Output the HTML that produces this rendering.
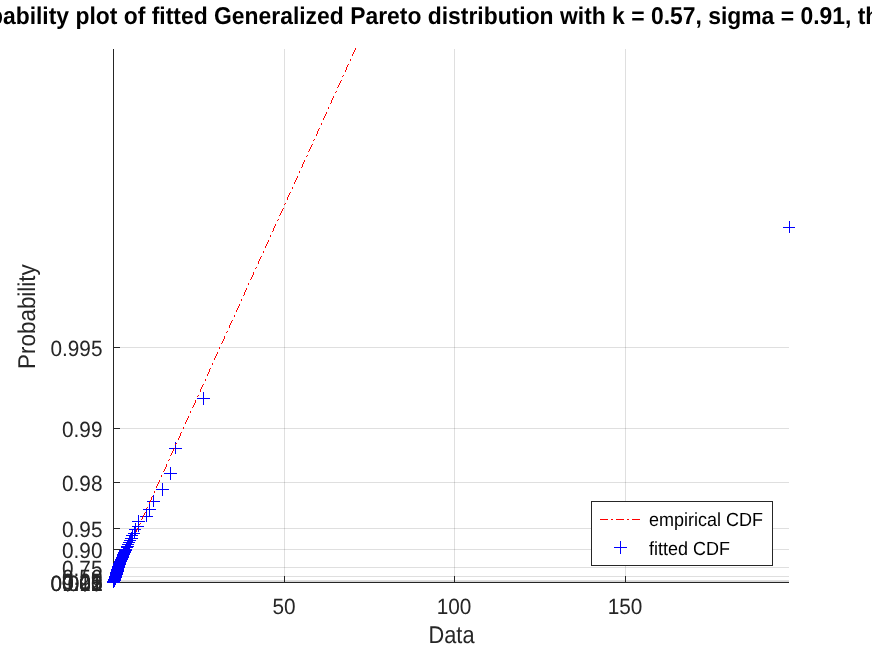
<!DOCTYPE html>
<html><head><meta charset="utf-8"><title>Probability plot</title>
<style>html,body{margin:0;padding:0;background:#fff;overflow:hidden}</style></head>
<body>
<svg width="872" height="654" viewBox="0 0 872 654" text-rendering="geometricPrecision" style="display:block;font-family:'Liberation Sans',sans-serif">
<rect width="872" height="654" fill="#fff"/>
<g fill="#262626" fill-opacity="0.15" shape-rendering="crispEdges">
<rect x="284" y="49" width="1" height="533"/>
<rect x="454" y="49" width="1" height="533"/>
<rect x="625" y="49" width="1" height="533"/>
<rect x="114" y="347" width="675" height="1"/>
<rect x="114" y="428" width="675" height="1"/>
<rect x="114" y="482" width="675" height="1"/>
<rect x="114" y="528" width="675" height="1"/>
<rect x="114" y="549" width="675" height="1"/>
<rect x="114" y="567" width="675" height="1"/>
<rect x="114" y="576" width="675" height="1"/>
<rect x="114" y="580" width="675" height="1"/>
<rect x="114" y="581" width="675" height="1" fill-opacity="0.19"/>
</g>
<g fill="#262626" shape-rendering="crispEdges">
<rect x="113" y="49" width="1" height="534"/>
<rect x="113" y="582" width="676" height="1"/>
<rect x="284" y="576" width="1" height="7"/>
<rect x="454" y="576" width="1" height="7"/>
<rect x="625" y="576" width="1" height="7"/>
<rect x="113" y="347" width="7" height="1"/>
<rect x="113" y="428" width="7" height="1"/>
<rect x="113" y="482" width="7" height="1"/>
<rect x="113" y="528" width="7" height="1"/>
<rect x="113" y="549" width="7" height="1"/>
<rect x="113" y="567" width="7" height="1"/>
<rect x="113" y="576" width="7" height="1"/>
<rect x="113" y="580" width="7" height="1"/>
<rect x="113" y="581" width="7" height="1"/>
</g>
<g fill="#262626" font-size="20.8px">
<text transform="translate(284 614) scale(1 1.06)" text-anchor="middle">50</text>
<text transform="translate(454 614) scale(1 1.06)" text-anchor="middle">100</text>
<text transform="translate(625 614) scale(1 1.06)" text-anchor="middle">150</text>
<text transform="translate(102.5 590.5) scale(1 1.06)" text-anchor="end">0.001</text>
<text transform="translate(102.5 590.5) scale(1 1.06)" text-anchor="end">0.005</text>
<text transform="translate(102.5 590.5) scale(1 1.06)" text-anchor="end">0.01</text>
<text transform="translate(102.5 590.5) scale(1 1.06)" text-anchor="end">0.02</text>
<text transform="translate(102.5 590.5) scale(1 1.06)" text-anchor="end">0.05</text>
<text transform="translate(102.5 590.5) scale(1 1.06)" text-anchor="end">0.10</text>
<text transform="translate(102.5 589.0) scale(1 1.06)" text-anchor="end">0.25</text>
<text transform="translate(102.5 585.0) scale(1 1.06)" text-anchor="end">0.50</text>
<text transform="translate(102.5 576.0) scale(1 1.06)" text-anchor="end">0.75</text>
<text transform="translate(102.5 558.0) scale(1 1.06)" text-anchor="end">0.90</text>
<text transform="translate(102.5 537.0) scale(1 1.06)" text-anchor="end">0.95</text>
<text transform="translate(102.5 491.0) scale(1 1.06)" text-anchor="end">0.98</text>
<text transform="translate(102.5 437.0) scale(1 1.06)" text-anchor="end">0.99</text>
<text transform="translate(102.5 356.0) scale(1 1.06)" text-anchor="end">0.995</text>
</g>
<g fill="#262626" font-size="22.9px">
<text transform="translate(451.5 643) scale(0.95 1.06)" text-anchor="middle">Data</text>
<text transform="translate(35 316.6) rotate(-90) scale(0.979 1.06)" text-anchor="middle">Probability</text>
</g>
<text transform="translate(451 24) scale(1 1.06)" text-anchor="middle" font-size="22.9px" font-weight="bold" fill="#000">Probability plot of fitted Generalized Pareto distribution with k = 0.57, sigma = 0.91, theta = 0</text>
<g fill="#0000ff" shape-rendering="crispEdges">
<path d="M107 582h13v1h-13zM113 576h1v12h-1z"/>
<path d="M107 582h13v1h-13zM113 576h1v12h-1z"/>
<path d="M107 582h13v1h-13zM113 576h1v12h-1z"/>
<path d="M107 582h13v1h-13zM113 576h1v12h-1z"/>
<path d="M107 582h13v1h-13zM113 576h1v12h-1z"/>
<path d="M107 582h13v1h-13zM113 576h1v12h-1z"/>
<path d="M107 582h13v1h-13zM113 576h1v12h-1z"/>
<path d="M107 582h13v1h-13zM113 576h1v12h-1z"/>
<path d="M107 582h13v1h-13zM113 576h1v12h-1z"/>
<path d="M107 582h13v1h-13zM113 576h1v12h-1z"/>
<path d="M107 582h13v1h-13zM113 576h1v12h-1z"/>
<path d="M107 581h13v1h-13zM113 575h1v13h-1z"/>
<path d="M107 581h13v1h-13zM113 575h1v13h-1z"/>
<path d="M107 581h13v1h-13zM113 575h1v13h-1z"/>
<path d="M107 581h13v1h-13zM113 575h1v13h-1z"/>
<path d="M107 581h13v1h-13zM113 575h1v13h-1z"/>
<path d="M107 581h13v1h-13zM113 575h1v13h-1z"/>
<path d="M107 581h13v1h-13zM113 575h1v13h-1z"/>
<path d="M107 581h13v1h-13zM113 575h1v13h-1z"/>
<path d="M107 581h13v1h-13zM113 575h1v13h-1z"/>
<path d="M107 581h13v1h-13zM113 575h1v13h-1z"/>
<path d="M107 581h13v1h-13zM113 575h1v13h-1z"/>
<path d="M107 581h13v1h-13zM113 575h1v13h-1z"/>
<path d="M107 581h13v1h-13zM113 575h1v13h-1z"/>
<path d="M107 581h13v1h-13zM113 575h1v12h-1z"/>
<path d="M107 581h13v1h-13zM113 575h1v12h-1z"/>
<path d="M107 581h13v1h-13zM113 575h1v12h-1z"/>
<path d="M107 581h13v1h-13zM113 575h1v12h-1z"/>
<path d="M107 581h13v1h-13zM113 575h1v12h-1z"/>
<path d="M108 581h12v1h-12zM114 575h1v12h-1z"/>
<path d="M108 581h12v1h-12zM114 575h1v12h-1z"/>
<path d="M108 581h12v1h-12zM114 575h1v12h-1z"/>
<path d="M108 581h12v1h-12zM114 575h1v12h-1z"/>
<path d="M108 581h12v1h-12zM114 575h1v12h-1z"/>
<path d="M108 581h12v1h-12zM114 575h1v12h-1z"/>
<path d="M108 580h12v1h-12zM114 574h1v13h-1z"/>
<path d="M108 580h12v1h-12zM114 574h1v13h-1z"/>
<path d="M108 580h12v1h-12zM114 574h1v13h-1z"/>
<path d="M108 580h12v1h-12zM114 574h1v13h-1z"/>
<path d="M108 580h12v1h-12zM114 574h1v13h-1z"/>
<path d="M108 580h12v1h-12zM114 574h1v13h-1z"/>
<path d="M108 580h12v1h-12zM114 574h1v13h-1z"/>
<path d="M108 580h12v1h-12zM114 574h1v13h-1z"/>
<path d="M108 580h12v1h-12zM114 574h1v13h-1z"/>
<path d="M108 580h12v1h-12zM114 574h1v13h-1z"/>
<path d="M108 580h12v1h-12zM114 574h1v12h-1z"/>
<path d="M108 580h12v1h-12zM114 574h1v12h-1z"/>
<path d="M108 580h12v1h-12zM114 574h1v12h-1z"/>
<path d="M108 580h12v1h-12zM114 574h1v12h-1z"/>
<path d="M108 580h12v1h-12zM114 574h1v12h-1z"/>
<path d="M108 580h12v1h-12zM114 574h1v12h-1z"/>
<path d="M108 580h13v1h-13zM114 574h1v12h-1z"/>
<path d="M108 580h13v1h-13zM114 574h1v12h-1z"/>
<path d="M108 580h13v1h-13zM114 574h1v12h-1z"/>
<path d="M108 580h13v1h-13zM114 574h1v12h-1z"/>
<path d="M108 579h13v1h-13zM114 573h1v13h-1z"/>
<path d="M108 579h13v1h-13zM114 573h1v13h-1z"/>
<path d="M108 579h13v1h-13zM114 573h1v13h-1z"/>
<path d="M108 579h13v1h-13zM114 573h1v13h-1z"/>
<path d="M108 579h13v1h-13zM114 573h1v13h-1z"/>
<path d="M108 579h13v1h-13zM114 573h1v13h-1z"/>
<path d="M108 579h13v1h-13zM114 573h1v13h-1z"/>
<path d="M108 579h13v1h-13zM114 573h1v13h-1z"/>
<path d="M108 579h13v1h-13zM114 573h1v12h-1z"/>
<path d="M108 579h13v1h-13zM114 573h1v12h-1z"/>
<path d="M108 579h13v1h-13zM114 573h1v12h-1z"/>
<path d="M108 579h13v1h-13zM114 573h1v12h-1z"/>
<path d="M108 579h13v1h-13zM114 573h1v12h-1z"/>
<path d="M108 579h13v1h-13zM114 573h1v12h-1z"/>
<path d="M108 579h13v1h-13zM114 573h1v12h-1z"/>
<path d="M109 579h12v1h-12zM115 573h1v12h-1z"/>
<path d="M109 578h12v1h-12zM115 572h1v13h-1z"/>
<path d="M109 578h12v1h-12zM115 572h1v13h-1z"/>
<path d="M109 578h12v1h-12zM115 572h1v13h-1z"/>
<path d="M109 578h12v1h-12zM115 572h1v13h-1z"/>
<path d="M109 578h12v1h-12zM115 572h1v13h-1z"/>
<path d="M109 578h12v1h-12zM115 572h1v13h-1z"/>
<path d="M109 578h12v1h-12zM115 572h1v13h-1z"/>
<path d="M109 578h12v1h-12zM115 572h1v12h-1z"/>
<path d="M109 578h12v1h-12zM115 572h1v12h-1z"/>
<path d="M109 578h12v1h-12zM115 572h1v12h-1z"/>
<path d="M109 578h12v1h-12zM115 572h1v12h-1z"/>
<path d="M109 578h12v1h-12zM115 572h1v12h-1z"/>
<path d="M109 578h12v1h-12zM115 572h1v12h-1z"/>
<path d="M109 577h12v1h-12zM115 571h1v13h-1z"/>
<path d="M109 577h13v1h-13zM115 571h1v13h-1z"/>
<path d="M109 577h13v1h-13zM115 571h1v13h-1z"/>
<path d="M109 577h13v1h-13zM115 571h1v13h-1z"/>
<path d="M109 577h13v1h-13zM115 571h1v13h-1z"/>
<path d="M109 577h13v1h-13zM115 571h1v13h-1z"/>
<path d="M109 577h13v1h-13zM115 571h1v12h-1z"/>
<path d="M109 577h13v1h-13zM115 571h1v12h-1z"/>
<path d="M109 577h13v1h-13zM115 571h1v12h-1z"/>
<path d="M109 577h13v1h-13zM115 571h1v12h-1z"/>
<path d="M109 577h13v1h-13zM115 571h1v12h-1z"/>
<path d="M109 577h13v1h-13zM115 571h1v12h-1z"/>
<path d="M109 576h13v1h-13zM115 570h1v13h-1z"/>
<path d="M109 576h13v1h-13zM115 570h1v13h-1z"/>
<path d="M109 576h13v1h-13zM115 570h1v13h-1z"/>
<path d="M109 576h13v1h-13zM115 570h1v13h-1z"/>
<path d="M109 576h13v1h-13zM115 570h1v13h-1z"/>
<path d="M109 576h13v1h-13zM115 570h1v12h-1z"/>
<path d="M109 576h13v1h-13zM115 570h1v12h-1z"/>
<path d="M110 576h12v1h-12zM116 570h1v12h-1z"/>
<path d="M110 576h12v1h-12zM116 570h1v12h-1z"/>
<path d="M110 575h12v1h-12zM116 569h1v13h-1z"/>
<path d="M110 575h12v1h-12zM116 569h1v13h-1z"/>
<path d="M110 575h12v1h-12zM116 569h1v13h-1z"/>
<path d="M110 575h12v1h-12zM116 569h1v13h-1z"/>
<path d="M110 575h12v1h-12zM116 569h1v13h-1z"/>
<path d="M110 575h12v1h-12zM116 569h1v12h-1z"/>
<path d="M110 575h12v1h-12zM116 569h1v12h-1z"/>
<path d="M110 575h12v1h-12zM116 569h1v12h-1z"/>
<path d="M110 575h12v1h-12zM116 569h1v12h-1z"/>
<path d="M110 574h12v1h-12zM116 568h1v13h-1z"/>
<path d="M110 574h12v1h-12zM116 568h1v13h-1z"/>
<path d="M110 574h12v1h-12zM116 568h1v13h-1z"/>
<path d="M110 574h13v1h-13zM116 568h1v12h-1z"/>
<path d="M110 574h13v1h-13zM116 568h1v12h-1z"/>
<path d="M110 574h13v1h-13zM116 568h1v12h-1z"/>
<path d="M110 574h13v1h-13zM116 568h1v12h-1z"/>
<path d="M110 573h13v1h-13zM116 567h1v13h-1z"/>
<path d="M110 573h13v1h-13zM116 567h1v13h-1z"/>
<path d="M110 573h13v1h-13zM116 567h1v13h-1z"/>
<path d="M110 573h13v1h-13zM116 567h1v12h-1z"/>
<path d="M110 573h13v1h-13zM116 567h1v12h-1z"/>
<path d="M110 573h13v1h-13zM116 567h1v12h-1z"/>
<path d="M110 572h13v1h-13zM116 566h1v13h-1z"/>
<path d="M111 572h12v1h-12zM117 566h1v13h-1z"/>
<path d="M111 572h12v1h-12zM117 566h1v13h-1z"/>
<path d="M111 572h12v1h-12zM117 566h1v12h-1z"/>
<path d="M111 572h12v1h-12zM117 566h1v12h-1z"/>
<path d="M111 572h12v1h-12zM117 566h1v12h-1z"/>
<path d="M111 571h12v1h-12zM117 565h1v13h-1z"/>
<path d="M111 571h12v1h-12zM117 565h1v13h-1z"/>
<path d="M111 571h12v1h-12zM117 565h1v12h-1z"/>
<path d="M111 571h12v1h-12zM117 565h1v12h-1z"/>
<path d="M111 571h13v1h-13zM117 565h1v12h-1z"/>
<path d="M111 570h13v1h-13zM117 564h1v13h-1z"/>
<path d="M111 570h13v1h-13zM117 564h1v13h-1z"/>
<path d="M111 570h13v1h-13zM117 564h1v12h-1z"/>
<path d="M111 570h13v1h-13zM117 564h1v12h-1z"/>
<path d="M111 569h13v1h-13zM117 563h1v13h-1z"/>
<path d="M111 569h13v1h-13zM117 563h1v13h-1z"/>
<path d="M112 569h12v1h-12zM118 563h1v12h-1z"/>
<path d="M112 569h12v1h-12zM118 563h1v12h-1z"/>
<path d="M112 568h12v1h-12zM118 562h1v13h-1z"/>
<path d="M112 568h12v1h-12zM118 562h1v13h-1z"/>
<path d="M112 568h12v1h-12zM118 562h1v12h-1z"/>
<path d="M112 568h12v1h-12zM118 562h1v12h-1z"/>
<path d="M112 567h13v1h-13zM118 561h1v13h-1z"/>
<path d="M112 567h13v1h-13zM118 561h1v12h-1z"/>
<path d="M112 567h13v1h-13zM118 561h1v12h-1z"/>
<path d="M112 566h13v1h-13zM118 560h1v13h-1z"/>
<path d="M112 566h13v1h-13zM118 560h1v12h-1z"/>
<path d="M113 566h12v1h-12zM119 560h1v12h-1z"/>
<path d="M113 565h12v1h-12zM119 559h1v13h-1z"/>
<path d="M113 565h12v1h-12zM119 559h1v12h-1z"/>
<path d="M113 564h12v1h-12zM119 558h1v13h-1z"/>
<path d="M113 564h12v1h-12zM119 558h1v13h-1z"/>
<path d="M113 564h13v1h-13zM119 558h1v12h-1z"/>
<path d="M113 563h13v1h-13zM119 557h1v13h-1z"/>
<path d="M113 563h13v1h-13zM119 557h1v12h-1z"/>
<path d="M114 562h12v1h-12zM120 556h1v13h-1z"/>
<path d="M114 562h12v1h-12zM120 556h1v12h-1z"/>
<path d="M114 561h13v1h-13zM120 555h1v13h-1z"/>
<path d="M114 561h13v1h-13zM120 555h1v12h-1z"/>
<path d="M115 560h12v1h-12zM121 554h1v13h-1z"/>
<path d="M115 559h12v1h-12zM121 553h1v13h-1z"/>
<path d="M115 559h13v1h-13zM121 553h1v12h-1z"/>
<path d="M116 558h12v1h-12zM122 552h1v13h-1z"/>
<path d="M116 557h12v1h-12zM122 551h1v13h-1z"/>
<path d="M116 557h13v1h-13zM122 551h1v12h-1z"/>
<path d="M117 556h12v1h-12zM123 550h1v12h-1z"/>
<path d="M117 555h12v1h-12zM123 549h1v12h-1z"/>
<path d="M117 554h13v1h-13zM123 548h1v13h-1z"/>
<path d="M118 553h12v1h-12zM124 547h1v13h-1z"/>
<path d="M118 552h13v1h-13zM124 546h1v13h-1z"/>
<path d="M119 551h12v1h-12zM125 545h1v13h-1z"/>
<path d="M119 550h13v1h-13zM125 544h1v12h-1z"/>
<path d="M120 549h12v1h-12zM126 543h1v12h-1z"/>
<path d="M121 547h12v1h-12zM127 541h1v13h-1z"/>
<path d="M121 546h13v1h-13zM127 540h1v12h-1z"/>
<path d="M122 544h12v1h-12zM128 538h1v13h-1z"/>
<path d="M123 542h12v1h-12zM129 536h1v13h-1z"/>
<path d="M124 540h12v1h-12zM130 534h1v13h-1z"/>
<path d="M125 538h13v1h-13zM131 532h1v12h-1z"/>
<path d="M126 535h12v1h-12zM132 529h1v13h-1z"/>
<path d="M128 533h12v1h-12zM134 527h1v12h-1z"/>
<path d="M129 529h12v1h-12zM135 523h1v13h-1z"/>
<path d="M132 526h12v1h-12zM138 520h1v12h-1z"/>
<path d="M132 521h13v1h-13zM138 515h1v13h-1z"/>
<path d="M140 516h13v1h-13zM146 510h1v12h-1z"/>
<path d="M143 509h13v1h-13zM149 503h1v13h-1z"/>
<path d="M147 501h13v1h-13zM153 495h1v12h-1z"/>
<path d="M156 489h13v1h-13zM162 483h1v13h-1z"/>
<path d="M164 473h13v1h-13zM170 467h1v13h-1z"/>
<path d="M169 448h13v1h-13zM175 442h1v12h-1z"/>
<path d="M197 398h13v1h-13zM203 392h1v13h-1z"/>
<path d="M783 227h12v1h-12zM789 221h1v12h-1z"/>
</g>
<path d="M355 48h1v2h-1zM354 50h1v2h-1zM353 52h1v2h-1zM352 54h1v2h-1zM350 59h1v2h-1zM348 64h1v1h-1zM347 65h1v2h-1zM346 67h1v3h-1zM345 70h1v2h-1zM343 75h1v1h-1zM342 76h1v1h-1zM341 80h1v1h-1zM340 81h1v2h-1zM339 83h1v2h-1zM338 85h1v2h-1zM337 87h1v1h-1zM336 91h1v1h-1zM335 92h1v1h-1zM333 96h1v2h-1zM332 98h1v2h-1zM331 100h1v3h-1zM330 103h1v1h-1zM328 107h1v2h-1zM326 112h1v2h-1zM325 114h1v2h-1zM324 116h1v2h-1zM323 118h1v2h-1zM321 123h1v2h-1zM319 128h1v1h-1zM318 129h1v2h-1zM317 131h1v3h-1zM316 134h1v2h-1zM314 139h1v1h-1zM313 140h1v1h-1zM312 144h1v1h-1zM311 145h1v2h-1zM310 147h1v2h-1zM309 149h1v2h-1zM308 151h1v1h-1zM307 155h1v1h-1zM306 156h1v1h-1zM304 160h1v2h-1zM303 162h1v2h-1zM302 164h1v3h-1zM301 167h1v1h-1zM299 171h1v2h-1zM297 176h1v2h-1zM296 178h1v2h-1zM295 180h1v2h-1zM294 182h1v2h-1zM292 187h1v2h-1zM290 192h1v1h-1zM289 193h1v2h-1zM288 195h1v2h-1zM287 197h1v3h-1zM285 203h1v1h-1zM284 204h1v1h-1zM283 208h1v1h-1zM282 209h1v2h-1zM281 211h1v2h-1zM280 213h1v2h-1zM279 215h1v1h-1zM278 219h1v1h-1zM277 220h1v1h-1zM275 224h1v2h-1zM274 226h1v2h-1zM273 228h1v3h-1zM272 231h1v1h-1zM270 235h1v2h-1zM268 240h1v2h-1zM267 242h1v2h-1zM266 244h1v2h-1zM265 246h1v2h-1zM263 251h1v2h-1zM261 256h1v1h-1zM260 257h1v2h-1zM259 259h1v2h-1zM258 261h1v3h-1zM256 267h1v1h-1zM255 268h1v1h-1zM253 272h1v3h-1zM252 275h1v2h-1zM251 277h1v2h-1zM250 279h1v1h-1zM248 283h1v2h-1zM246 288h1v2h-1zM245 290h1v2h-1zM244 292h1v3h-1zM243 295h1v1h-1zM241 299h1v2h-1zM239 304h1v2h-1zM238 306h1v2h-1zM237 308h1v2h-1zM236 310h1v2h-1zM234 315h1v2h-1zM232 320h1v1h-1zM231 321h1v2h-1zM230 323h1v2h-1zM229 325h1v3h-1zM227 331h1v1h-1zM226 332h1v1h-1zM224 336h1v3h-1zM223 339h1v2h-1zM222 341h1v2h-1zM221 343h1v1h-1zM219 347h1v2h-1zM217 352h1v2h-1zM216 354h1v2h-1zM215 356h1v2h-1zM214 358h1v2h-1zM212 363h1v2h-1zM210 368h1v1h-1zM209 369h1v3h-1zM208 372h1v2h-1zM207 374h1v2h-1zM205 379h1v2h-1zM203 384h1v1h-1zM202 385h1v2h-1zM201 387h1v2h-1zM200 389h1v3h-1zM198 395h1v1h-1zM197 396h1v1h-1zM195 400h1v3h-1zM194 403h1v2h-1zM193 405h1v2h-1zM192 407h1v1h-1zM190 411h1v2h-1zM188 416h1v2h-1zM187 418h1v2h-1zM186 420h1v2h-1zM185 422h1v2h-1zM183 427h1v2h-1zM181 432h1v1h-1zM180 433h1v3h-1zM179 436h1v2h-1zM178 438h1v2h-1zM176 443h1v1h-1zM175 444h1v1h-1zM174 448h1v1h-1zM173 449h1v2h-1zM172 451h1v2h-1zM171 453h1v2h-1zM170 455h1v1h-1zM169 459h1v1h-1zM168 460h1v1h-1zM166 464h1v3h-1zM165 467h1v2h-1zM164 469h1v2h-1zM163 471h1v1h-1zM161 475h1v2h-1zM159 480h1v2h-1zM158 482h1v2h-1zM157 484h1v2h-1zM156 486h1v2h-1zM154 491h1v2h-1zM152 496h1v1h-1zM151 497h1v3h-1zM150 500h1v2h-1zM149 502h1v2h-1zM147 507h1v1h-1zM146 508h1v1h-1zM145 512h1v1h-1zM144 513h1v2h-1zM143 515h1v2h-1zM142 517h1v2h-1zM141 519h1v1h-1zM140 523h1v1h-1zM139 524h1v1h-1zM137 528h1v2h-1zM136 530h1v2h-1z" fill="#ff0000" shape-rendering="crispEdges"/>
<rect x="591.5" y="501.5" width="181" height="64" fill="#fff" stroke="#262626" stroke-width="1" shape-rendering="crispEdges"/>
<path d="M600 519h8v1h-8zM611 519h2v1h-2zM616 519h8v1h-8zM627 519h2v1h-2zM632 519h8v1h-8z" fill="#ff0000" shape-rendering="crispEdges"/>
<path d="M614 547h13v1h-13zM620 541h1v13h-1z" fill="#0000ff" shape-rendering="crispEdges"/>
<g font-size="18px" fill="#000"><text transform="translate(649 526) scale(1 1.06)" text-anchor="start">empirical CDF</text><text transform="translate(649 554.5) scale(1 1.06)" text-anchor="start">fitted CDF</text></g>
</svg>
</body></html>
